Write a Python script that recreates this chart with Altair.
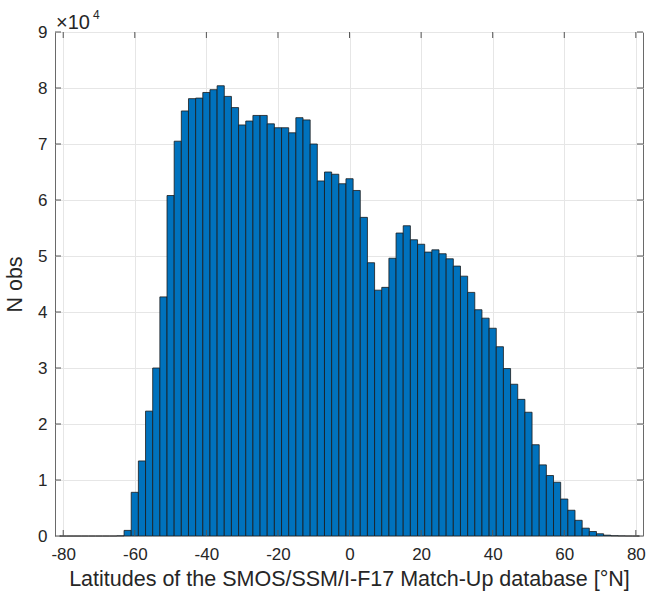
import altair as alt
import pandas as pd

# Histogram of match-up latitudes: 2-degree bins centred on even latitudes
lat_centers = list(range(-80, 81, 2))
counts = [
    0, 0, 0, 0, 0, 0, 0, 0,            # -80 .. -66
    30, 1000, 7800, 13400, 22300,      # -64 .. -56
    30000, 42700, 60800, 70500, 75900, # -54 .. -46
    78100, 78200, 79200, 79700, 80400, # -44 .. -36
    78500, 76500, 73400, 74100, 75100, # -34 .. -26
    75100, 73600, 72900, 72900, 72000, # -24 .. -16
    74700, 74300, 70000, 63400, 65000, # -14 .. -6
    64600, 62900, 63800, 61700, 56900, # -4 .. 4
    48800, 43900, 44400, 49600, 54100, # 6 .. 14
    55400, 52900, 52100, 50700, 51100, # 16 .. 24
    50400, 49500, 48200, 46400, 43500, # 26 .. 34
    40400, 38900, 37100, 33800, 29900, # 36 .. 44
    27100, 24400, 22100, 16300, 12700, # 46 .. 54
    10800, 9600, 6600, 4600, 2800,     # 56 .. 64
    1400, 800, 400, 150, 50,           # 66 .. 74
    20, 5, 0,                          # 76 .. 80
]
bin_width = 2

x_ticks = [-80, -60, -40, -20, 0, 20, 40, 60, 80]
y_ticks = [0, 10000, 20000, 30000, 40000, 50000, 60000, 70000, 80000, 90000]

W, H = 588, 504
FONT = "Liberation Sans"
TXT = "#262626"

df = pd.DataFrame({"lat": lat_centers, "n": counts})

x_scale = alt.Scale(domain=[-82.3, 82.0], nice=False, zero=False)
y_scale = alt.Scale(domain=[0, 90000], nice=False)

bars = (
    alt.Chart(df)
    .transform_calculate(lo=f"datum.lat - {bin_width / 2}", hi=f"datum.lat + {bin_width / 2}")
    .mark_bar(color="#0072BD", stroke="#1a1a1a", strokeWidth=0.8)
    .encode(
        x=alt.X(
            "lo:Q",
            scale=x_scale,
            axis=alt.Axis(
                values=x_ticks, grid=True, gridColor="#e6e6e6", ticks=False, domain=False,
                labelExpr="datum.value + ''",
                labelFontSize=17, labelColor=TXT, labelFont=FONT, labelPadding=10,
                title="Latitudes of the SMOS/SSM/I-F17 Match-Up database [°N]",
                titleFontSize=21.5, titleFont=FONT, titleColor=TXT, titleFontWeight="normal",
                titlePadding=6,
            ),
        ),
        x2="hi:Q",
        y=alt.Y(
            "n:Q",
            scale=y_scale,
            axis=alt.Axis(
                values=y_ticks, grid=True, gridColor="#e6e6e6", ticks=False, domain=False,
                labelExpr="datum.value / 10000 + ''",
                labelFontSize=17, labelColor=TXT, labelFont=FONT, labelPadding=8,
                title="N obs", titleFontSize=21.5, titleFont=FONT, titleColor=TXT,
                titleFontWeight="normal", titlePadding=11,
            ),
        ),
        y2=alt.datum(0),
    )
)

xt = pd.DataFrame({"v": x_ticks})
yt = pd.DataFrame({"v": y_ticks})
tick_style = dict(color="#555555", strokeWidth=1)

x_ticks_bottom = alt.Chart(xt).mark_rule(**tick_style).encode(
    x=alt.X("v:Q", scale=x_scale), y=alt.value(H), y2=alt.value(H - 6)
)
x_ticks_top = alt.Chart(xt).mark_rule(**tick_style).encode(
    x=alt.X("v:Q", scale=x_scale), y=alt.value(0), y2=alt.value(6)
)
y_ticks_left = alt.Chart(yt).mark_rule(**tick_style).encode(
    y=alt.Y("v:Q", scale=y_scale), x=alt.value(0), x2=alt.value(6)
)
y_ticks_right = alt.Chart(yt).mark_rule(**tick_style).encode(
    y=alt.Y("v:Q", scale=y_scale), x=alt.value(W), x2=alt.value(W - 6)
)

# axis exponent marker
exp_base = alt.Chart(pd.DataFrame({"t": ["×10"]})).mark_text(
    font=FONT, fontSize=20, color=TXT, align="left", baseline="alphabetic"
).encode(text="t:N", x=alt.value(1), y=alt.value(-3))
exp_pow = alt.Chart(pd.DataFrame({"t": ["4"]})).mark_text(
    font=FONT, fontSize=12, color=TXT, align="left", baseline="alphabetic"
).encode(text="t:N", x=alt.value(38), y=alt.value(-13))

chart = (
    alt.layer(bars, x_ticks_bottom, x_ticks_top, y_ticks_left, y_ticks_right, exp_base, exp_pow)
    .properties(
        width=W,
        height=H,
        autosize=alt.AutoSizeParams(type="none"),
        padding={"left": 55, "top": 32, "right": 4, "bottom": 61},
        background="white",
    )
    .configure_view(stroke="#6a6a6a", strokeWidth=1)
)

chart.save("out.html", embed_options={"renderer": "svg", "actions": False})
